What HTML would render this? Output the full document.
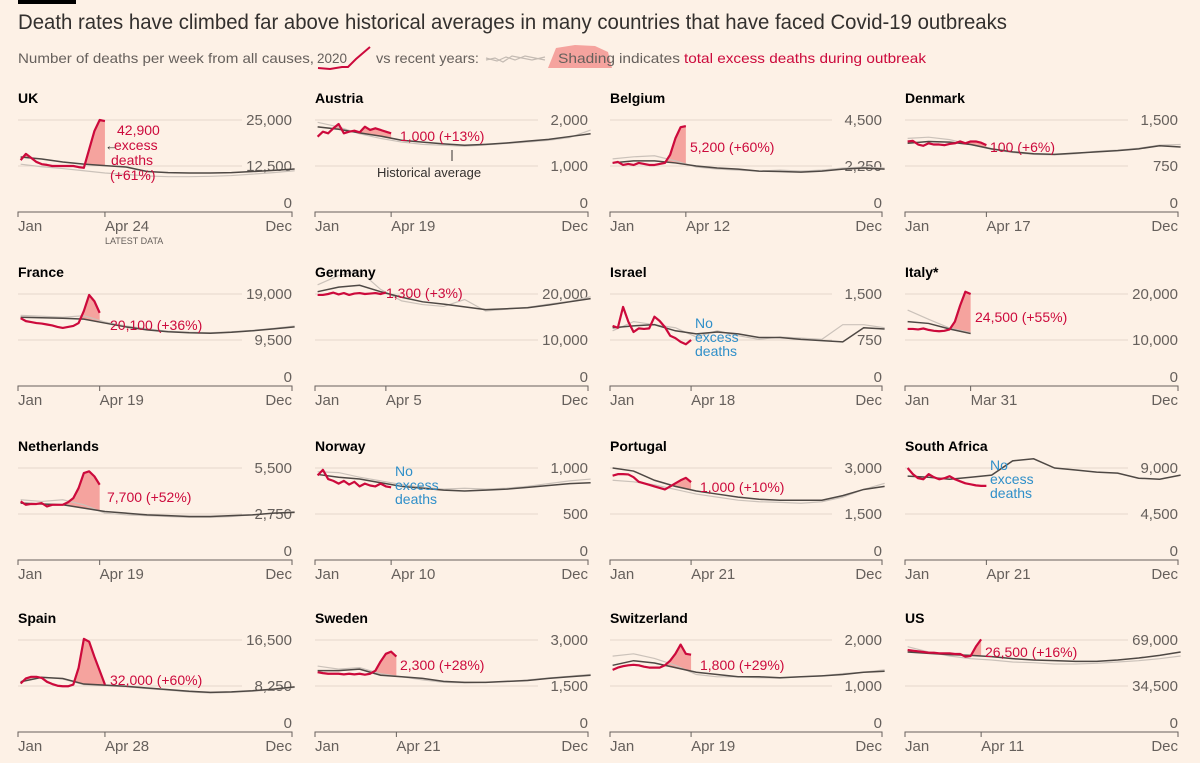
<!DOCTYPE html>
<html><head><meta charset="utf-8">
<style>
html,body{margin:0;padding:0;background:#fdf1e6;}
svg{display:block;font-family:"Liberation Sans",sans-serif;}
</style></head>
<body>
<svg id="chart" width="1200" height="763" viewBox="0 0 1200 763" xmlns="http://www.w3.org/2000/svg">
<rect width="1200" height="763" fill="#fdf1e6"/>
<rect x="18" y="0" width="58" height="4" fill="#000"/>
<text x="18" y="29" font-size="21" fill="#33302e" textLength="989" lengthAdjust="spacingAndGlyphs">Death rates have climbed far above historical averages in many countries that have faced Covid-19 outbreaks</text>
<g font-size="14" fill="#66605c">
<text x="18" y="63" textLength="296" lengthAdjust="spacingAndGlyphs">Number of deaths per week from all causes,</text>
<text x="317" y="63" textLength="30" lengthAdjust="spacingAndGlyphs">2020</text>
<path d="M318 68 L330 69 L342 67 L348 67 L356 59 L370 47" fill="none" stroke="#cc0a3c" stroke-width="2"/>
<text x="376" y="63" textLength="103" lengthAdjust="spacingAndGlyphs">vs recent years:</text>
<path d="M486 60 L495 58 L503 62 L512 56 L522 58 L532 60 L545 57 M486 58 L497 61 L506 57 L515 60 L525 56 L545 60" fill="none" stroke="#c4bbb3" stroke-width="1.2"/>
<path d="M548 68 L556 48 L575 45 L595 46 L608 52 L612 68 Z" fill="#f5a39e"/>
<text x="558" y="63" textLength="57" lengthAdjust="spacingAndGlyphs">Shading</text>
<text x="619" y="63" textLength="61" lengthAdjust="spacingAndGlyphs">indicates</text>
<text x="684" y="63" fill="#cc0a3c" textLength="242" lengthAdjust="spacingAndGlyphs">total excess deaths during outbreak</text>
</g>
<g id="panels"></g>
</svg>
<script>
// ---- data (values per week; avg/gray sampled every 4 weeks, weeks 0..52) ----
const ukRed=[14100,15800,14700,13600,13000,12800,12500,12500,12500,12500,12500,12200,12000,17000,22000,25000,24700];
const ukAvg=[14950,14400,13600,13000,12600,12230,11000,10700,10600,10600,10700,11000,11300,11700];
const ukGray=[13000,12300,11800,11200,10600,10200,9800,9600,9600,9700,9900,10300,10700,11200];
const atRed=[1637,1746,1710,1820,1913,1710,1746,1768,1732,1854,1783,1820,1783,1746,1710];
const atAvg=[1850,1800,1720,1650,1560,1520,1480,1450,1470,1500,1540,1580,1640,1700];
const atGray=[1950,1850,1700,1600,1520,1470,1450,1430,1460,1490,1520,1560,1620,1780];
const beRed=[2400,2450,2300,2350,2300,2400,2350,2300,2300,2350,2400,2800,3600,4150,4200];
const beAvg=[2400,2500,2500,2400,2250,2150,2100,2000,1980,1950,2000,2100,2150,2100];
const beGray=[2600,2700,2750,2500,2200,2100,2050,2000,2050,2000,2050,2150,2200,2150];
const dkRed=[1150,1160,1100,1080,1120,1100,1100,1090,1110,1120,1150,1120,1150,1150,1130,1090];
const dkAvg=[1120,1150,1140,1100,1030,980,950,940,960,980,1000,1030,1080,1060];
const dkGray=[1200,1220,1180,1100,1020,970,940,930,950,990,1010,1040,1090,1100];
const frRed=[14000,13400,13200,13000,12900,12700,12500,12200,12000,12200,12400,13000,15500,18800,17500,15100];
const frAvg=[14200,14100,14000,13800,13000,12200,11600,11200,11000,10900,11100,11400,11800,12200];
const frGray=[14600,14400,14200,14500,13200,12400,11800,11300,11100,11000,11200,11500,11900,12400];
const deRed=[19800,19800,20000,20300,19900,20200,19800,20100,20200,20000,20100,20200,20000,20300];
const deAvg=[20500,21500,21900,20500,19300,18300,17800,17200,16600,16800,17000,17600,18300,19000];
const deGray=[22000,24000,25000,21000,18500,17700,17300,18800,16300,16700,17100,17800,18400,19400];
const ilRed=[980,950,1290,1050,880,940,930,940,1130,1060,960,820,780,720,680,750];
const ilAvg=[950,980,1000,900,850,880,850,790,790,760,740,720,950,930];
const ilGray=[900,1050,1000,950,800,900,820,760,800,780,760,1000,1000,950];
const itRed=[12400,12400,12300,12500,12200,12000,11900,12000,12300,14000,17500,20500,20000];
const itAvg=[14000,13600,12400,11400];
const itGray=[16500,14500,12600,11600];
const nlRed=[3500,3300,3350,3350,3400,3200,3300,3300,3300,3450,3700,4300,5200,5300,5000,4500];
const nlAvg=[3400,3350,3300,3100,2900,2800,2700,2650,2600,2600,2650,2700,2800,2850];
const nlGray=[3600,3500,3600,3300,2800,2700,2650,2600,2550,2550,2600,2700,2800,2900];
const noRed=[920,980,880,860,830,860,820,850,800,830,810,800,830,800,790];
const noAvg=[930,900,880,840,800,780,760,750,760,770,790,810,830,840];
const noGray=[960,950,900,860,820,790,770,780,770,780,800,830,860,880];
const ptRed=[2750,2800,2800,2790,2700,2550,2500,2450,2400,2350,2300,2400,2500,2600,2680,2540];
const ptAvg=[3000,2900,2600,2400,2250,2150,2050,1980,1950,1950,1950,2100,2300,2400];
const ptGray=[2600,2550,2450,2300,2150,2050,1950,1900,1880,1850,1900,2050,2300,2500];
const zaRed=[9000,8400,8000,7900,8400,8100,7900,8000,8200,7900,7700,7500,7400,7300,7250,7250];
const zaAvg=[8200,8100,7900,8100,8300,9700,9900,9000,8800,8600,8500,8000,7900,8300];
const zaGray=[];
const esRed=[8700,9600,9900,9900,9700,9000,8600,8300,8200,8200,8500,11500,16700,16200,13500,11000,8500];
const esAvg=[9000,9800,9600,8600,8400,8200,7900,7600,7300,7100,7200,7400,7700,8100];
const esGray=[9100,9900,9500,8500,8300,8100,7800,7500,7200,7000,7100,7300,7600,8000];
const seRed=[1950,1920,1900,1900,1900,1880,1900,1880,1900,1870,1900,2000,2300,2550,2620,2460];
const seAvg=[2000,2000,2050,1850,1800,1750,1650,1620,1620,1650,1680,1750,1800,1850];
const seGray=[2150,2050,2100,1900,1800,1700,1620,1600,1620,1640,1700,1760,1820,1880];
const chRed=[1350,1400,1430,1450,1460,1450,1420,1400,1400,1400,1450,1550,1700,1900,1700,1680];
const chAvg=[1450,1550,1500,1400,1300,1250,1200,1200,1180,1200,1220,1250,1300,1320];
const chGray=[1650,1700,1600,1450,1250,1200,1200,1180,1170,1200,1220,1270,1300,1350];
const usRed=[61500,61000,60500,60000,59500,59500,59000,59000,59000,58500,58500,56500,57000,64000,69500];
const usAvg=[60000,59000,58000,57500,56500,55000,54000,53500,53000,53000,54000,55500,57500,60000];
const usGray=[64000,60000,57000,55000,54000,52500,52000,51000,51000,51500,52500,53500,55000,57000];

const countryNames=["UK","Austria","Belgium","Denmark","France","Germany","Israel","Italy*","Netherlands","Norway","Portugal","South Africa","Spain","Sweden","Switzerland","US"];
const topTicks=[25000,2000,4500,1500,19000,20000,1500,20000,5500,1000,3000,9000,16500,3000,2000,69000];
const midTicks=[12500,1000,2250,750,9500,10000,750,10000,2750,500,1500,4500,8250,1500,1000,34500];
const dateLabels=["Apr 24","Apr 19","Apr 12","Apr 17","Apr 19","Apr 5","Apr 18","Mar 31","Apr 19","Apr 10","Apr 21","Apr 21","Apr 28","Apr 21","Apr 19","Apr 11"];
const excessLabels=["42,900","1,000 (+13%)","5,200 (+60%)","100 (+6%)","20,100 (+36%)","1,300 (+3%)","No excess deaths","24,500 (+55%)","7,700 (+52%)","No excess deaths","1,000 (+10%)","No excess deaths","32,000 (+60%)","2,300 (+28%)","1,800 (+29%)","26,500 (+16%)"];
const redSeries=[ukRed,atRed,beRed,dkRed,frRed,deRed,ilRed,itRed,nlRed,noRed,ptRed,zaRed,esRed,seRed,chRed,usRed];
const avgSeries=[ukAvg,atAvg,beAvg,dkAvg,frAvg,deAvg,ilAvg,itAvg,nlAvg,noAvg,ptAvg,zaAvg,esAvg,seAvg,chAvg,usAvg];
const graySeries=[ukGray,atGray,beGray,dkGray,frGray,deGray,ilGray,itGray,nlGray,noGray,ptGray,zaGray,esGray,seGray,chGray,usGray];

// ---- layout ----
const NS="http://www.w3.org/2000/svg";
const colL=[18,315,610,905], colR=[292,588,882,1178], rowAxis=[212,386,560,732], PH=92;
const annPos=[[117,135],[400,141],[690,152],[990,152],[110,330],[386,298],[695,328],[975,322],[107,502],[395,476],[700,492],[990,470],[110,685],[400,670],[700,670],[985,657]];
const root=document.getElementById('panels');
function mk(tag,attrs,parent,txt){const e=document.createElementNS(NS,tag);for(const k in attrs)e.setAttribute(k,attrs[k]);if(txt!==undefined)e.textContent=txt;parent.appendChild(e);return e;}
function slug(s){return s.toLowerCase().replace(/[^a-z]+/g,'-').replace(/-$/,'');}

countryNames.forEach((name,i)=>{
  const c=i%4, r=Math.floor(i/4);
  const L=colL[c], R=colR[c], W=R-L, A=rowAxis[r], top=topTicks[i];
  const xW=w=>L+w/52*W, y=v=>A-v/top*PH;
  const g=mk('g',{},root);
  
  
  [[top,topTicks[i].toLocaleString('en-US')],[midTicks[i],midTicks[i].toLocaleString('en-US')]].forEach(([v,lab])=>{
    const ln=mk('line',{x1:L,x2:R-50,y1:y(v),y2:y(v),stroke:'#e5d8cc','stroke-width':1},g);
    
    
    const tx=mk('text',{x:R,y:y(v)+5,'text-anchor':'end','font-size':15,fill:'#66605c'},g,lab);
    
    
  });
  const z=mk('text',{x:R,y:A-4,'text-anchor':'end','font-size':15,fill:'#66605c'},g,'0');
  
  
  const red=redSeries[i], avg=avgSeries[i], gray=graySeries[i];
  const lastW=red.length-1+0.5;
  const ax=mk('path',{d:`M${L} ${A+5}V${A}H${R}V${A+5}M${xW(lastW)} ${A}V${A+5}`,fill:'none',stroke:'#66605c','stroke-width':1},g);
  
  
  [[L,'start','Jan'],[xW(lastW),'start',dateLabels[i]],[R,'end','Dec']].forEach(([x,an,lab])=>{
    const tx=mk('text',{x:x,y:A+19,'text-anchor':an,'font-size':15,fill:'#66605c'},g,lab);
    
    
  });
  const avgAt=w=>{const k=w/4;const a=Math.floor(k),b=Math.min(a+1,avg.length-1);if(a>=avg.length-1)return avg[avg.length-1];return avg[a]+(avg[b]-avg[a])*(k-a);};
  const noExcess=excessLabels[i].startsWith('No');
  if(!noExcess){
    let up=red.map((v,w)=>`${xW(w+0.5)},${y(Math.max(v,avgAt(w+0.5)))}`);
    let dn=red.map((v,w)=>`${xW(w+0.5)},${y(avgAt(w+0.5))}`).reverse();
    const sh=mk('polygon',{points:up.concat(dn).join(' '),fill:'#f5a39e'},g);
    
    
  }
  if(gray.length){
    const gp=mk('polyline',{points:gray.map((v,k)=>`${xW(k*4+0.5)},${y(v)}`).join(' '),fill:'none',stroke:'#cbc2ba','stroke-width':1.2},g);
    
    
  }
  const ap=mk('polyline',{points:avg.map((v,k)=>`${xW(k*4+0.5)},${y(v)}`).join(' '),fill:'none',stroke:'#4e4844','stroke-width':1.5},g);
  
  
  const rp=mk('polyline',{points:red.map((v,w)=>`${xW(w+0.5)},${y(v)}`).join(' '),fill:'none',stroke:'#cc0a3c','stroke-width':2.2,'stroke-linejoin':'round'},g);
  
  
  const t=mk('text',{x:L,y:A-109,'font-size':14,'font-weight':'bold',fill:'#000'},g,name);
  
  
  const [axp,ayp]=annPos[i];
  if(noExcess){
    ['No','excess','deaths'].forEach((s,k)=>{
      const tx=mk('text',{x:axp,y:ayp+k*14,'font-size':14,fill:'#2f8fc9'},g,s);
      
      
    });
  } else if(i===0){
    [['42,900',axp],['excess',axp-3],['deaths',axp-6],['(+61%)',axp-7]].forEach(([s,x],k)=>{
      const tx=mk('text',{x:x,y:ayp+k*15,'font-size':14,fill:'#cc0a3c'},g,s);
      
      
    });
    const ar=mk('text',{x:axp-12,y:ayp+15,'font-size':13,fill:'#33302e'},g,'←');
    
    
    const ld=mk('text',{x:xW(lastW),y:A+32,'font-size':9,fill:'#66605c'},g,'LATEST DATA');
    
    
  } else {
    const tx=mk('text',{x:axp,y:ayp,'font-size':14,fill:'#cc0a3c'},g,excessLabels[i]);
    
    
  }
  if(i===1){
    const pl=mk('line',{x1:452,x2:452,y1:150,y2:161,stroke:'#33302e','stroke-width':1},g);
    
    
    const hl=mk('text',{x:377,y:177,'font-size':13,fill:'#33302e'},g,'Historical average');
    
    
  }
});
</script>
</body></html>
